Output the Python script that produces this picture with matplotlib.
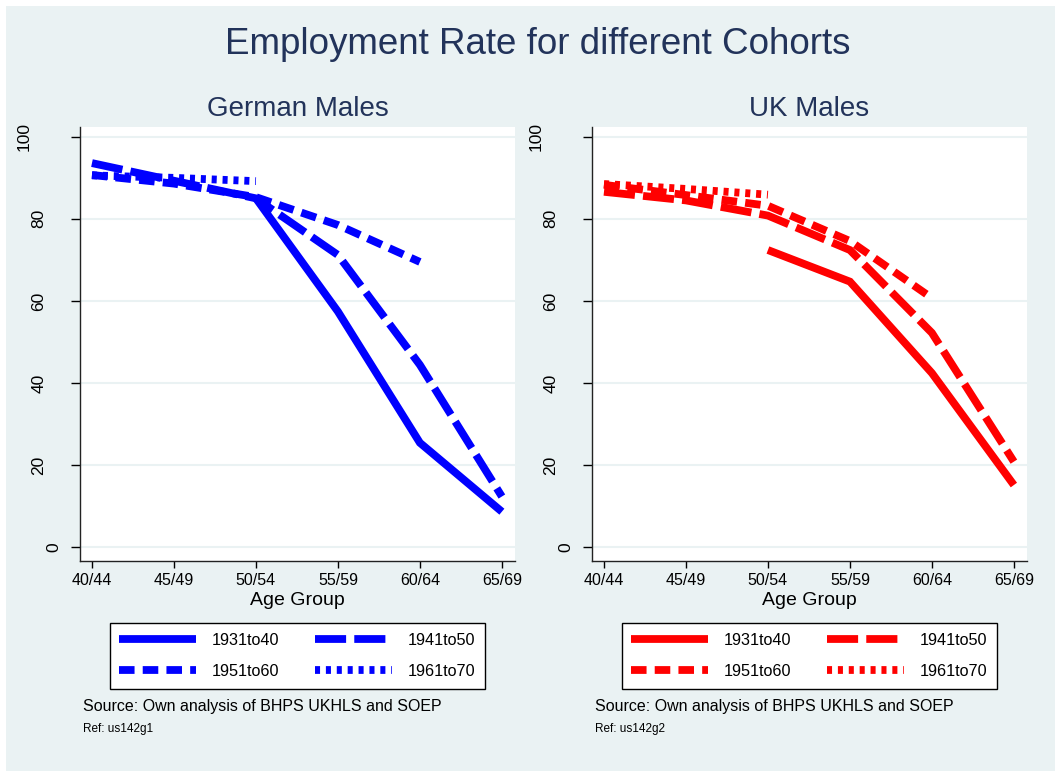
import numpy as np
import matplotlib
matplotlib.use("Agg")
import matplotlib.pyplot as plt
import matplotlib.transforms as mtransforms
from matplotlib.patches import Rectangle

plt.rcParams['font.family'] = ['Liberation Sans', 'DejaVu Sans']

# Data (employment rate, %)
age_groups = ['40/44', '45/49', '50/54', '55/59', '60/64', '65/69']
cohorts = ['1931to40', '1941to50', '1951to60', '1961to70']
nan = np.nan

de_1931 = [nan, nan, 85.0, 57.4, 25.4, 8.6]
de_1941 = [93.6, 89.3, 85.0, 71.2, 44.4, 12.3]
de_1951 = [90.7, 88.6, 85.3, 78.5, 69.5, nan]
de_1961 = [90.6, 90.0, 89.2, nan, nan, nan]

uk_1931 = [nan, nan, 72.4, 64.7, 42.4, 15.1]
uk_1941 = [86.6, 84.5, 80.8, 72.4, 52.2, 20.8]
uk_1951 = [88.3, 85.8, 83.2, 74.6, 60.7, nan]
uk_1961 = [88.5, 87.3, 85.9, nan, nan, nan]

yticks = [0, 20, 40, 60, 80, 100]

W, H = 1058, 773
BG = '#EAF2F3'
NAVY = '#22335A'
LW = 5.6
# dash patterns in units of line width (solid, long dash, dash, dot)
styles = [None, (0, (4.0, 1.05)), (0, (2.0, 1.05)), (0, (0.65, 0.75))]

fig = plt.figure(figsize=(W / 100, H / 100), dpi=100)
fig.patch.set_facecolor('white')
fig.patches.append(Rectangle((6 / W, 2 / H), (W - 9) / W, (H - 8) / H,
                             transform=fig.transFigure, facecolor=BG,
                             edgecolor='none', zorder=-5))

fig.text(538 / W, 1 - 45 / H, 'Employment Rate for different Cohorts',
         ha='center', va='center', fontsize=26.5, color=NAVY)


def panel(left_px, title, series, color, ref):
    ax = fig.add_axes([left_px / W, 1 - 560.5 / H, 435 / W, 433.5 / H])
    ax.set_facecolor('white')
    x = np.arange(len(age_groups))
    handles = []
    for vals, ls, lab in zip(series, styles, cohorts):
        if ls is None:
            h, = ax.plot(x, vals, color=color, lw=LW, solid_capstyle='butt',
                         solid_joinstyle='miter', label=lab)
        else:
            h, = ax.plot(x, vals, color=color, lw=LW, linestyle=ls,
                         dash_capstyle='butt', dash_joinstyle='miter', label=lab)
        handles.append(h)
    ax.set_xlim(-0.146, 5.16)
    ax.set_ylim(-3.3, 102.4)
    ax.set_xticks(x)
    ax.set_xticklabels(age_groups, fontsize=11.5)
    ax.set_yticks(yticks)
    ax.set_yticklabels([])
    ax.tick_params(axis='x', length=5, width=1, pad=4, color='black')
    ax.tick_params(axis='y', length=6.5, width=1, color='black')
    ax.grid(axis='y', color=BG, lw=1.5)
    ax.set_axisbelow(True)
    for s in ['top', 'right']:
        ax.spines[s].set_visible(False)
    for s in ['left', 'bottom']:
        ax.spines[s].set_linewidth(1.0)
        ax.spines[s].set_color('#222222')
    # rotated y tick labels, right-aligned before rotation like the original
    base = mtransforms.blended_transform_factory(ax.transAxes, ax.transData)
    for v in yticks:
        n = len(str(v))
        tr = mtransforms.offset_copy(base, fig=fig, x=-(11 + 15 * n), y=0, units='dots')
        ax.text(0, v, str(v), transform=tr, rotation=90, ha='center', va='center',
                fontsize=12.5)
    ax.set_title(title, fontsize=20, color=NAVY, pad=8)
    ax.set_xlabel('Age Group', fontsize=14, labelpad=3)

    # row-major legend order like the original: fill columns accordingly
    order = [0, 2, 1, 3]
    cx = (left_px + 217.5) / W
    leg = fig.legend(handles=[handles[i] for i in order], loc='center',
                     bbox_to_anchor=(cx, 1 - 656 / H),
                     ncol=2, fontsize=11.7, handlelength=4.7, handletextpad=1.0,
                     columnspacing=2.2, labelspacing=1.0, borderpad=0.6,
                     frameon=True, fancybox=False, edgecolor='black', framealpha=1)
    leg.get_frame().set_linewidth(1.0)
    fig.text((left_px + 3) / W, 1 - 706 / H, 'Source: Own analysis of BHPS UKHLS and SOEP',
             ha='left', va='center', fontsize=11.5)
    fig.text((left_px + 3) / W, 1 - 729 / H, 'Ref: ' + ref,
             ha='left', va='center', fontsize=8.5)
    return ax


panel(80, 'German Males', [de_1931, de_1941, de_1951, de_1961], '#0000FF', 'us142g1')
panel(592, 'UK Males', [uk_1931, uk_1941, uk_1951, uk_1961], '#FF0000', 'us142g2')

fig.savefig('out.png', dpi=100, facecolor=fig.get_facecolor())
